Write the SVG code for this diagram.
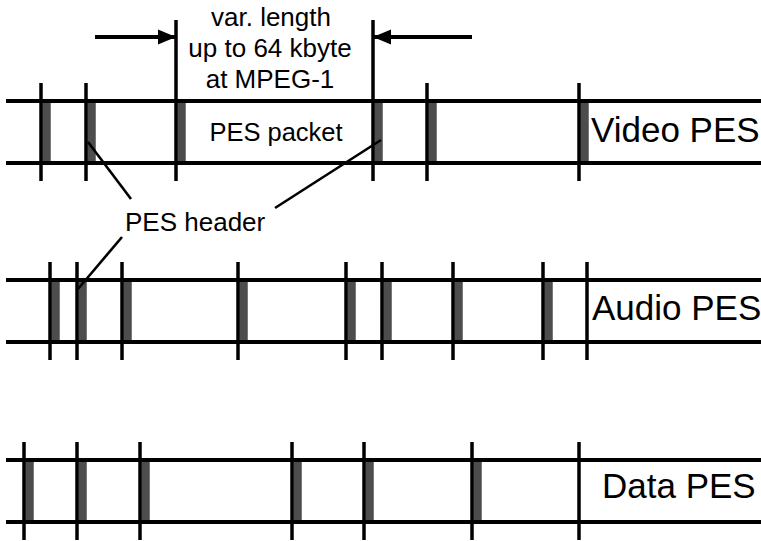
<svg xmlns="http://www.w3.org/2000/svg" width="761" height="541" viewBox="0 0 761 541">
<style>
.bar{fill:#4d4d4d;stroke:#5a5a5a;stroke-width:0.6}
.ln{stroke:#000;stroke-width:4;fill:none}
.tk{stroke:#000;stroke-width:3.5;fill:none}
.ld{stroke:#000;stroke-width:2.6;fill:none}
.t{font-family:"Liberation Sans",Arial,sans-serif;fill:#000}
</style>
<defs>
<marker id="ah" markerUnits="userSpaceOnUse" markerWidth="20" markerHeight="16" refX="18" refY="8" orient="auto">
<polygon points="0,0.5 18,8 0,15.5" fill="#000"/>
</marker>
</defs>
<rect width="761" height="541" fill="#fff"/>
<g id="video-pes">
<rect class="bar" x="42.5" y="101" width="8" height="62"/>
<rect class="bar" x="87.5" y="101" width="8" height="62"/>
<rect class="bar" x="177.5" y="101" width="8" height="62"/>
<rect class="bar" x="374.5" y="101" width="8" height="62"/>
<rect class="bar" x="428.5" y="101" width="8" height="62"/>
<rect class="bar" x="580.5" y="101" width="8" height="62"/>
<line class="ln" x1="6" y1="101" x2="761" y2="101"/>
<line class="ln" x1="6" y1="163" x2="761" y2="163"/>
<line class="tk" x1="41" y1="83" x2="41" y2="181"/>
<line class="tk" x1="86" y1="83" x2="86" y2="181"/>
<line class="tk" x1="176" y1="20" x2="176" y2="181"/>
<line class="tk" x1="373" y1="20" x2="373" y2="181"/>
<line class="tk" x1="427" y1="83" x2="427" y2="181"/>
<line class="tk" x1="579" y1="83" x2="579" y2="181"/>
<text class="t" x="591" y="142" font-size="35">Video PES</text>
<text class="t" x="276" y="141" font-size="25.5" text-anchor="middle">PES packet</text>
</g>
<g id="audio-pes">
<rect class="bar" x="51.5" y="280" width="8" height="62"/>
<rect class="bar" x="78.5" y="280" width="8" height="62"/>
<rect class="bar" x="123.5" y="280" width="8" height="62"/>
<rect class="bar" x="239.5" y="280" width="8" height="62"/>
<rect class="bar" x="347.5" y="280" width="8" height="62"/>
<rect class="bar" x="383.5" y="280" width="8" height="62"/>
<rect class="bar" x="454.5" y="280" width="8" height="62"/>
<rect class="bar" x="544.5" y="280" width="8" height="62"/>
<line class="ln" x1="6" y1="280" x2="761" y2="280"/>
<line class="ln" x1="6" y1="342" x2="761" y2="342"/>
<line class="tk" x1="50" y1="262" x2="50" y2="360"/>
<line class="tk" x1="77" y1="262" x2="77" y2="360"/>
<line class="tk" x1="122" y1="262" x2="122" y2="360"/>
<line class="tk" x1="238" y1="262" x2="238" y2="360"/>
<line class="tk" x1="346" y1="262" x2="346" y2="360"/>
<line class="tk" x1="382" y1="262" x2="382" y2="360"/>
<line class="tk" x1="453" y1="262" x2="453" y2="360"/>
<line class="tk" x1="543" y1="262" x2="543" y2="360"/>
<line class="tk" x1="587" y1="262" x2="587" y2="360"/>
<text class="t" x="592" y="320" font-size="35">Audio PES</text>
</g>
<g id="data-pes">
<rect class="bar" x="25.5" y="460" width="8" height="62"/>
<rect class="bar" x="78.5" y="460" width="8" height="62"/>
<rect class="bar" x="141.5" y="460" width="8" height="62"/>
<rect class="bar" x="293.5" y="460" width="8" height="62"/>
<rect class="bar" x="365.5" y="460" width="8" height="62"/>
<rect class="bar" x="473.5" y="460" width="8" height="62"/>
<line class="ln" x1="6" y1="460" x2="761" y2="460"/>
<line class="ln" x1="6" y1="522" x2="761" y2="522"/>
<line class="tk" x1="24" y1="442" x2="24" y2="540"/>
<line class="tk" x1="77" y1="442" x2="77" y2="540"/>
<line class="tk" x1="140" y1="442" x2="140" y2="540"/>
<line class="tk" x1="292" y1="442" x2="292" y2="540"/>
<line class="tk" x1="364" y1="442" x2="364" y2="540"/>
<line class="tk" x1="472" y1="442" x2="472" y2="540"/>
<line class="tk" x1="579" y1="442" x2="579" y2="540"/>
<text class="t" x="602" y="498" font-size="35">Data PES</text>
</g>
<g id="length-label">
<text class="t" font-size="26" text-anchor="middle"><tspan x="271" y="26">var. length</tspan><tspan x="270" y="57">up to 64 kbyte</tspan><tspan x="270" y="88">at MPEG-1</tspan></text>
</g>
<g id="pes-header-label">
<text class="t" x="125" y="231" font-size="26">PES header</text>
</g>
<g id="connectors">
<line class="ln" x1="95" y1="37" x2="176" y2="37" marker-end="url(#ah)"/>
<line class="ln" x1="472" y1="37" x2="373" y2="37" marker-end="url(#ah)"/>
<line class="ld" x1="88" y1="142" x2="131" y2="199"/>
<line class="ld" x1="381" y1="140" x2="275" y2="208"/>
<line class="ld" x1="122" y1="237" x2="78" y2="289"/>
</g>
</svg>
